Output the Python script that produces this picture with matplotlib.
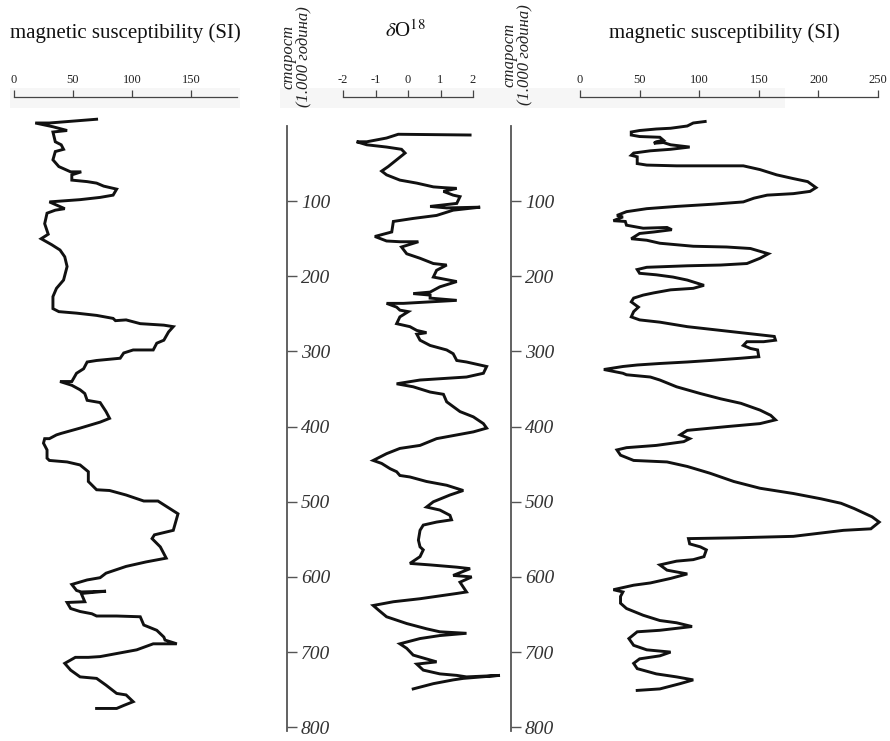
import matplotlib
matplotlib.use("Agg")
import matplotlib.pyplot as plt
from matplotlib.patches import Rectangle

plt.rcParams['font.family'] = ['Liberation Serif', 'DejaVu Serif']
plt.rcParams['mathtext.fontset'] = 'stix'

# left core: magnetic susceptibility (SI) against age (ka)
left_age = [-9, -4, -4, 1, 6, 8, 21, 25, 31, 34,
            45, 54, 61, 61, 65, 72, 74, 76, 80, 84,
            92, 95, 98, 101, 110, 112, 116, 130, 144, 150,
            158, 165, 174, 187, 205, 216, 227, 243, 247, 249,
            252, 256, 259, 258, 263, 265, 267, 274, 285, 289,
            298, 298, 302, 309, 312, 314, 320, 323, 329, 340,
            340, 345, 351, 356, 365, 368, 380, 389, 394, 402,
            409, 411, 416, 416, 422,
            425, 431, 442, 445, 447, 451, 460, 473, 484, 485,
            491, 499, 499, 509, 516, 538, 544, 549, 560, 575,
            580, 586, 595, 601, 604, 610, 618, 620, 619, 622,
            633, 634, 642, 646, 649, 652, 652, 653, 664, 671,
            680, 684, 689, 689, 697, 702, 706, 707, 707, 715,
            724, 733, 735, 744, 755, 757, 766, 771, 775, 775]
left_ms = [70, 30, 18, 33, 45, 33, 35, 40, 42, 35,
           33, 38, 48, 57, 49, 49, 62, 70, 76, 87,
           84, 73, 56, 30, 43, 35, 28, 26, 29, 23,
           32, 39, 43, 45, 42, 36, 33, 33, 38, 53,
           70, 84, 86, 95, 107, 127, 135, 131, 127, 121,
           118, 101, 93, 90, 70, 62, 60, 59, 53, 49,
           39, 49, 56, 60, 62, 73, 78, 81, 73, 56,
           40, 36, 30, 26, 25,
           26, 28, 28, 30, 45, 56, 63, 63, 70, 81,
           95, 110, 122, 132, 139, 135, 119, 117, 124, 129,
           112, 95, 78, 73, 62, 49, 53, 57, 78, 57,
           60, 45, 48, 56, 66, 70, 87, 107, 110, 121,
           127, 128, 138, 118, 104, 87, 73, 63, 52, 43,
           48, 56, 70, 78, 87, 95, 101, 93, 87, 70]

# middle core: delta O-18 against age (ka)
mid_age = [12, 11, 16, 21, 21, 25, 28, 31, 36, 45,
           54, 60, 65, 72, 76, 81, 82, 83, 87, 92,
           94, 103, 107, 109, 108, 112, 119, 123, 127, 141,
           147, 153, 154, 154, 161, 170, 176, 183, 185, 192,
           201, 207, 214, 221, 223, 225, 229, 232, 234, 236,
           236, 241, 245, 247, 254, 263, 267, 272, 275, 277,
           285, 292, 298, 303, 312, 314, 320, 329, 334, 338,
           343, 347, 354, 357, 367, 380, 387, 396, 402, 407, 416,
           425, 429, 436, 445, 449, 456, 460, 465, 467, 473,
           478, 485, 491, 500, 507, 511, 518, 524, 527, 531,
           538, 551, 560, 564, 573, 582, 584, 587, 589, 598,
           600, 607, 620, 622, 629, 633, 638, 644, 653, 662,
           669, 673, 675, 678, 682, 689, 695, 704, 713, 716,
           724, 729, 731, 733, 731, 735, 737, 742, 749]
mid_d18o = [1.91, -0.30, -0.66, -1.27, -1.58, -1.27, -0.66, -0.20, -0.09, -0.35,
            -0.61, -0.81, -0.66, -0.25, 0.27, 0.78, 1.09, 1.50, 1.09, 1.39,
            1.60, 1.50, 0.68, 1.19, 2.22, 1.39, 0.88, 0.16, -0.45, -0.50,
            -1.02, -0.66, -0.25, 0.32, -0.20, -0.04, 0.37, 0.78, 1.19, 0.88,
            0.78, 1.50, 0.98, 0.68, 0.16, 0.68, 0.68, 1.50, 0.68, -0.14,
            -0.66, -0.35, -0.25, 0.01, -0.25, -0.35, 0.06, 0.27, 0.57, 0.27,
            0.37, 0.68, 1.19, 1.39, 1.50, 1.80, 2.42, 2.32, 1.80, 0.37,
            -0.35, 0.16, 0.68, 1.09, 1.19, 1.60, 2.01, 2.32, 2.42, 2.01, 0.88,
            0.37, -0.25, -0.66, -1.07, -0.81, -0.55, -0.35, -0.25, 0.06, 0.57,
            1.19, 1.70, 1.29, 0.78, 0.57, 0.98, 1.29, 1.34, 0.88, 0.47,
            0.37, 0.32, 0.37, 0.47, 0.37, 0.06, 0.68, 1.50, 1.91, 1.39,
            1.96, 1.60, 1.80, 1.50, 0.37, -0.45, -1.07, -0.91, -0.66, -0.04,
            0.57, 0.98, 1.80, 0.98, 0.37, -0.25, -0.04, 0.16, 0.88, 0.27,
            0.47, 0.98, 1.50, 1.80, 2.83, 1.70, 1.39, 0.78, 0.16]

# right core: magnetic susceptibility (SI) against age (ka)
right_age = [-6, -4, 0, 3, 4, 6, 8, 12, 14, 15,
             19, 21, 23, 22, 25, 28, 31, 33, 36, 39,
             41, 50, 52, 53, 53, 53, 58, 65, 70, 74,
             82, 87, 90, 92, 96, 101, 104, 107, 110, 114,
             119, 121, 126, 127, 132, 136, 135, 138, 141, 143,
             150, 152, 156, 160, 161, 163, 170, 176, 183, 185,
             186, 188, 191, 196, 198, 201, 205, 209, 212, 216,
             218, 222, 225, 229, 234, 241, 247, 254, 258, 261,
             267, 272, 276, 280, 285, 287, 287, 292, 296, 298,
             307, 309, 312, 314, 316, 318, 320, 324, 329, 331,
             334, 338, 347, 356, 363, 369, 378, 385, 391, 396,
             400, 405, 411, 416, 420,
             425, 428, 431, 438, 445, 447, 453, 462, 473, 482,
             489, 496, 502, 509, 520, 527, 536, 538, 546, 548,
             549, 556, 560, 564, 573, 577, 579, 584, 591, 596,
             602, 608, 611, 617, 620, 626, 635, 642, 651, 658,
             661, 666, 671, 673, 682, 691, 697, 700, 705, 709,
             715, 722, 729, 733, 737, 742, 749, 751]
right_ms = [105, 95, 90, 76, 64, 50, 43, 43, 50, 67,
            70, 64, 62, 70, 76, 92, 76, 59, 45, 43,
            48, 48, 56, 81, 109, 137, 151, 165, 179, 191,
            198, 193, 179, 157, 146, 137, 112, 81, 56, 39,
            31, 36, 28, 38, 39, 53, 73, 77, 62, 50,
            43, 56, 67, 95, 123, 143, 158, 151, 140, 118,
            90, 56, 48, 50, 64, 78, 90, 98, 104, 95,
            76, 62, 53, 45, 43, 49, 45, 43, 50, 67,
            90, 118, 140, 163, 164, 154, 140, 137, 143, 149,
            150, 135, 109, 90, 67, 48, 36, 20, 36, 39,
            59, 67, 81, 101, 118, 135, 151, 160, 164, 151,
            123, 90, 84, 92, 87,
            64, 39, 31, 34, 45, 73, 90, 109, 129, 151,
            179, 202, 219, 230, 245, 251, 244, 221, 179, 129,
            91, 92, 101, 106, 104, 95, 81, 67, 73, 90,
            76, 59, 45, 28, 36, 34, 34, 39, 53, 67,
            81, 94, 67, 48, 41, 45, 56, 76, 67, 50,
            45, 48, 64, 81, 95, 84, 67, 48]

age_ticks = [100, 200, 300, 400, 500, 600, 700, 800]
ms_left_ticks = [0, 50, 100, 150]
d18o_ticks = [-2, -1, 0, 1, 2]
ms_right_ticks = [0, 50, 100, 150, 200, 250]

W, H = 890, 741
fig = plt.figure(figsize=(W / 100, H / 100), dpi=100)
fig.patch.set_facecolor('white')

# faint grey strips behind the top scales (as on the scanned page)
for bx0, bx1 in [(10, 240), (280, 785)]:
    fig.add_artist(Rectangle((bx0 / W, 1 - 108 / H), (bx1 - bx0) / W, 20 / H,
                             transform=fig.transFigure, facecolor='#f6f6f6',
                             edgecolor='none', zorder=-1))


def panel(x0, x1, xlim, xticks, age, vals, age_axis_px=None):
    # axes box in pixels: top at age 0, bottom at age ~805
    y0, y1 = 126, 731
    ax = fig.add_axes([x0 / W, 1 - y1 / H, (x1 - x0) / W, (y1 - y0) / H])
    ax.patch.set_alpha(0)
    ax.plot(vals, age, color='#111111', lw=2.1, clip_on=False,
            solid_joinstyle='miter')
    ax.set_xlim(*xlim)
    ax.set_ylim(805, 0)

    # bracket-style scale on top
    ax.xaxis.tick_top()
    ax.set_xticks(xticks)
    ax.set_xticklabels([str(t) for t in xticks])
    ax.tick_params(axis='x', direction='out', length=5, width=0.9,
                   color='#444444', labelsize=9, pad=3, labelcolor='#222222')
    ax.spines['top'].set_position(('outward', 21))
    ax.spines['top'].set_color('#444444')
    ax.spines['top'].set_linewidth(0.9)
    ax.spines['left'].set_visible(False)
    ax.spines['bottom'].set_visible(False)

    if age_axis_px is None:
        ax.spines['right'].set_visible(False)
        ax.set_yticks([])
    else:
        ax.spines['right'].set_position(('outward', (age_axis_px - x1) * 0.72))
        ax.spines['right'].set_color('#555555')
        ax.spines['right'].set_linewidth(1.3)
        ax.yaxis.tick_right()
        ax.set_yticks(age_ticks)
        ax.set_yticklabels([str(t) for t in age_ticks], fontstyle='italic')
        ax.tick_params(axis='y', direction='out', length=7, width=1.0,
                       color='#555555', labelsize=14, pad=3,
                       labelcolor='#333333')
    return ax


panel(14, 237, (0, 189), ms_left_ticks, left_age, left_ms, age_axis_px=287)
panel(343, 473, (-2, 2), d18o_ticks, mid_age, mid_d18o, age_axis_px=511)
panel(580, 878, (0, 250), ms_right_ticks, right_age, right_ms)

fig.text(125 / W, 1 - 33 / H, 'magnetic susceptibility (SI)', ha='center',
         va='center', fontsize=15, color='#111111')
fig.text(724 / W, 1 - 33 / H, 'magnetic susceptibility (SI)', ha='center',
         va='center', fontsize=15, color='#111111')
fig.text(405 / W, 1 - 31 / H, r'$\delta$O$^{18}$', ha='center', va='center',
         fontsize=15, color='#111111')

for xp, yp in [(296, 57), (517, 55)]:
    fig.text(xp / W, 1 - yp / H, 'старост\n(1.000 година)', rotation=90,
             ha='center', va='center', fontsize=12, fontstyle='italic',
             linespacing=1.0, color='#222222')

fig.savefig('out.png', dpi=100, facecolor='white')
